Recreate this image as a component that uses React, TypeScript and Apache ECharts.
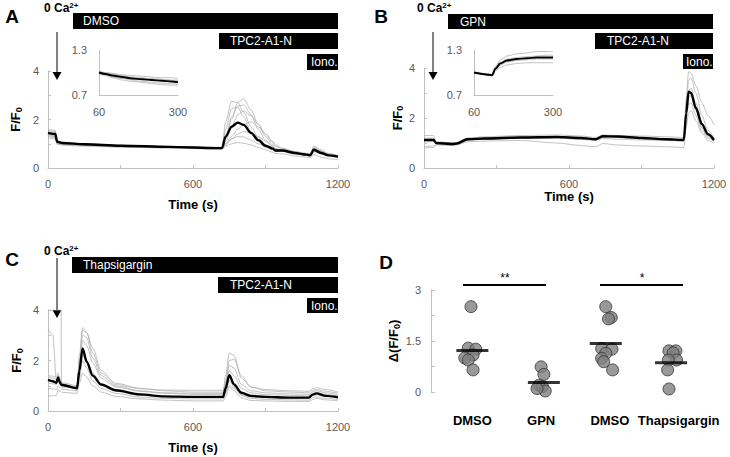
import React, { useEffect, useRef } from "react";
import * as echarts from "echarts";

const FONT = "'Liberation Sans', Arial, Helvetica, sans-serif";
const LABEL_GRAY = "#595959";
const AXIS_GRAY = "#c0c0c0";
const TRACE_GRAY = "#b3b3b3";

// ---------- Panel A (DMSO) ----------
const timeA = [0, 30, 38, 60, 150, 300, 500, 700, 720, 735, 760, 785, 810, 840, 870, 900, 930, 940, 970, 1020, 1070, 1085, 1100, 1130, 1160, 1200];
const meanA = [1.45, 1.4, 1.08, 1.03, 0.98, 0.92, 0.87, 0.82, 0.82, 1.3, 1.7, 1.87, 1.78, 1.45, 1.15, 0.92, 0.8, 0.72, 0.72, 0.62, 0.55, 0.52, 0.75, 0.62, 0.52, 0.47];
const cellA1 = [1.6, 1.55, 1.12, 1.06, 1.0, 0.94, 0.89, 0.85, 0.85, 1.9, 2.75, 2.7, 2.3, 1.7, 1.25, 0.95, 0.8, 0.72, 0.72, 0.62, 0.55, 0.55, 0.85, 0.7, 0.58, 0.5];
const cellA2 = [1.5, 1.45, 1.1, 1.04, 0.99, 0.93, 0.88, 0.83, 0.83, 1.2, 2.0, 2.7, 2.85, 2.4, 1.8, 1.3, 0.95, 0.8, 0.75, 0.65, 0.58, 0.56, 0.9, 0.75, 0.6, 0.52];
const cellA3 = [1.4, 1.35, 1.05, 1.0, 0.95, 0.9, 0.85, 0.8, 0.8, 1.6, 2.45, 2.5, 2.1, 1.5, 1.1, 0.85, 0.75, 0.68, 0.68, 0.6, 0.53, 0.52, 0.7, 0.6, 0.52, 0.46];
const cellA4 = [1.35, 1.3, 1.02, 0.98, 0.94, 0.89, 0.85, 0.81, 0.81, 1.1, 1.7, 2.2, 2.35, 2.15, 1.8, 1.4, 1.05, 0.9, 0.8, 0.68, 0.6, 0.58, 0.8, 0.68, 0.58, 0.5];
const cellA5 = [1.3, 1.25, 1.0, 0.96, 0.92, 0.88, 0.84, 0.8, 0.8, 1.0, 1.3, 1.6, 1.8, 1.9, 1.7, 1.4, 1.1, 0.95, 0.82, 0.68, 0.6, 0.58, 0.75, 0.65, 0.56, 0.5];
const cellA6 = [1.45, 1.4, 1.06, 1.01, 0.96, 0.9, 0.86, 0.82, 0.82, 1.0, 1.2, 1.3, 1.28, 1.15, 1.0, 0.88, 0.78, 0.7, 0.7, 0.6, 0.55, 0.53, 0.68, 0.58, 0.5, 0.44];
const cellA7 = [1.25, 1.2, 0.98, 0.94, 0.9, 0.86, 0.82, 0.78, 0.78, 0.9, 1.0, 1.05, 1.02, 0.95, 0.85, 0.75, 0.65, 0.6, 0.58, 0.5, 0.45, 0.42, 0.55, 0.45, 0.38, 0.35];
const cellA8 = [1.55, 1.5, 1.1, 1.05, 1.0, 0.93, 0.88, 0.84, 0.84, 1.3, 2.1, 2.55, 2.6, 2.2, 1.6, 1.15, 0.88, 0.75, 0.72, 0.63, 0.56, 0.55, 0.82, 0.68, 0.56, 0.48];
const cellA9 = [1.35, 1.3, 1.03, 0.98, 0.93, 0.88, 0.84, 0.8, 0.8, 0.95, 1.2, 1.4, 1.5, 1.45, 1.3, 1.1, 0.9, 0.8, 0.75, 0.63, 0.56, 0.54, 0.7, 0.6, 0.52, 0.46];
const cellsA = [cellA1, cellA2, cellA3, cellA4, cellA5, cellA6, cellA7, cellA8, cellA9];

// ---------- Panel B (GPN) ----------
const timeB = [0, 40, 50, 120, 135, 180, 250, 400, 550, 650, 710, 740, 800, 900, 1000, 1075, 1085, 1095, 1105, 1125, 1150, 1175, 1200];
const meanB = [1.12, 1.12, 1.0, 0.96, 0.98, 1.15, 1.18, 1.22, 1.24, 1.2, 1.15, 1.27, 1.26, 1.2, 1.15, 1.12, 2.2, 3.05, 3.0, 2.4, 1.75, 1.35, 1.12];
const cellB1 = [1.2, 1.2, 1.05, 1.0, 1.02, 1.2, 1.25, 1.3, 1.32, 1.28, 1.22, 1.32, 1.3, 1.28, 1.25, 1.22, 2.8, 3.85, 3.8, 3.3, 2.6, 2.1, 1.72];
const cellB2 = [1.05, 1.05, 0.98, 0.95, 0.97, 1.12, 1.16, 1.2, 1.22, 1.18, 1.12, 1.22, 1.22, 1.2, 1.15, 1.12, 2.5, 3.5, 3.6, 3.0, 2.1, 1.5, 1.2];
const cellB3 = [0.85, 0.88, 0.95, 0.93, 0.95, 1.1, 1.15, 1.18, 1.2, 1.15, 1.1, 1.18, 1.15, 1.12, 1.1, 1.08, 1.9, 2.55, 2.6, 2.1, 1.5, 1.2, 1.05];
const cellB4 = [0.8, 0.82, 0.92, 0.9, 0.92, 1.05, 1.08, 1.1, 1.0, 0.9, 0.85, 0.98, 0.92, 0.88, 0.85, 0.82, 1.6, 2.2, 2.3, 1.9, 1.4, 1.1, 0.98];
const cellB5 = [1.3, 1.3, 1.02, 0.97, 0.99, 1.18, 1.2, 1.24, 1.26, 1.22, 1.18, 1.3, 1.28, 1.22, 1.18, 1.15, 2.3, 3.1, 3.2, 2.6, 1.8, 1.35, 1.1];
const cellB6 = [1.15, 1.15, 1.0, 0.96, 0.98, 1.15, 1.19, 1.22, 1.25, 1.2, 1.15, 1.25, 1.25, 1.2, 1.16, 1.12, 2.1, 2.8, 2.9, 2.3, 1.6, 1.25, 1.05];
const cellsB = [cellB1, cellB2, cellB3, cellB4, cellB5, cellB6];

// ---------- Panel C (Thapsigargin) ----------
const timeC = [0, 20, 35, 42, 46, 54, 56, 60, 120, 130, 143, 160, 185, 220, 280, 380, 480, 600, 725, 735, 750, 770, 800, 840, 900, 1000, 1080, 1095, 1110, 1150, 1200];
const meanC = [1.23, 1.18, 1.12, 1.33, 1.2, 1.05, 1.04, 1.03, 0.9, 1.6, 2.48, 1.95, 1.4, 1.05, 0.82, 0.66, 0.58, 0.56, 0.56, 0.9, 1.42, 1.05, 0.72, 0.6, 0.56, 0.53, 0.53, 0.65, 0.7, 0.6, 0.54];
const cellC1 = [3.27, 3.0, 1.2, 1.25, 1.15, 1.05, 1.05, 1.04, 0.95, 2.2, 3.3, 3.1, 2.3, 1.5, 1.05, 0.88, 0.83, 0.82, 0.82, 1.4, 2.3, 2.2, 1.3, 0.95, 0.85, 0.8, 0.78, 0.88, 0.92, 0.85, 0.75];
const cellC2 = [4, 4, 4, 4, 4, 4, 0.95, 0.95, 0.92, 2.0, 3.2, 3.1, 2.5, 1.6, 1.1, 0.9, 0.8, 0.75, 0.75, 1.2, 2.0, 2.05, 1.4, 0.95, 0.8, 0.75, 0.72, 0.82, 0.85, 0.78, 0.7];
const cellC3 = [1.35, 1.3, 1.25, 1.4, 1.3, 1.12, 1.1, 1.08, 0.95, 1.9, 3.0, 2.9, 2.1, 1.4, 1.0, 0.8, 0.72, 0.7, 0.7, 1.1, 1.8, 1.7, 1.05, 0.8, 0.72, 0.68, 0.66, 0.76, 0.8, 0.72, 0.65];
const cellC4 = [0.9, 0.88, 0.85, 1.0, 0.95, 0.88, 0.87, 0.86, 0.8, 1.3, 2.0, 1.7, 1.2, 0.9, 0.7, 0.55, 0.5, 0.48, 0.48, 0.7, 1.2, 0.95, 0.62, 0.5, 0.46, 0.44, 0.43, 0.52, 0.56, 0.5, 0.45];
const cellC5 = [0.6, 0.6, 0.62, 0.85, 0.8, 0.75, 0.75, 0.74, 0.7, 1.1, 1.5, 1.35, 1.0, 0.75, 0.58, 0.48, 0.43, 0.4, 0.4, 0.55, 0.95, 0.8, 0.52, 0.42, 0.4, 0.38, 0.38, 0.45, 0.5, 0.44, 0.4];
const cellC6 = [1.4, 1.38, 1.35, 1.5, 1.38, 1.2, 1.15, 1.12, 1.0, 1.7, 2.8, 2.6, 1.9, 1.3, 0.95, 0.78, 0.7, 0.66, 0.66, 1.0, 1.6, 1.4, 0.9, 0.72, 0.65, 0.62, 0.6, 0.7, 0.74, 0.66, 0.6];
const cellC7 = [1.1, 1.08, 1.05, 1.2, 1.1, 1.0, 0.98, 0.97, 0.88, 1.5, 2.2, 2.0, 1.5, 1.05, 0.78, 0.62, 0.56, 0.53, 0.53, 0.75, 1.0, 0.9, 0.65, 0.55, 0.52, 0.5, 0.5, 0.6, 0.64, 0.58, 0.52];
const cellsC = [cellC1, cellC2, cellC3, cellC4, cellC5, cellC6, cellC7];

// ---------- Insets (60–300 s) ----------
const timeInsetA = [60, 80, 100, 130, 160, 190, 220, 250, 280, 300];
const meanInsetA = [1.0, 0.98, 0.96, 0.94, 0.92, 0.91, 0.9, 0.89, 0.88, 0.87];
const insetA1 = [1.02, 1.0, 0.99, 0.97, 0.96, 0.95, 0.94, 0.93, 0.93, 0.92];
const insetA2 = [0.98, 0.96, 0.93, 0.9, 0.88, 0.87, 0.85, 0.84, 0.83, 0.82];
const insetA3 = [1.01, 0.99, 0.97, 0.96, 0.94, 0.92, 0.92, 0.91, 0.9, 0.9];
const insetA4 = [0.99, 0.97, 0.94, 0.92, 0.9, 0.88, 0.87, 0.86, 0.85, 0.84];
const insetA5 = [1.0, 0.99, 0.98, 0.95, 0.93, 0.93, 0.91, 0.9, 0.89, 0.89];
const insetCellsA = [insetA1, insetA2, insetA3, insetA4, insetA5];

const timeInsetB = [60, 80, 105, 115, 125, 140, 160, 190, 220, 250, 280, 300];
const meanInsetB = [1.0, 0.985, 0.97, 0.965, 1.05, 1.12, 1.16, 1.18, 1.19, 1.2, 1.2, 1.2];
const insetB1 = [1.0, 0.99, 0.98, 0.97, 1.08, 1.17, 1.22, 1.25, 1.26, 1.28, 1.28, 1.28];
const insetB2 = [0.99, 0.98, 0.96, 0.96, 1.02, 1.07, 1.1, 1.12, 1.13, 1.13, 1.13, 1.13];
const insetB3 = [1.0, 0.99, 0.97, 0.97, 1.06, 1.14, 1.18, 1.2, 1.21, 1.22, 1.23, 1.23];
const insetB4 = [1.01, 0.99, 0.98, 0.97, 1.04, 1.1, 1.14, 1.16, 1.17, 1.18, 1.18, 1.18];
const insetCellsB = [insetB1, insetB2, insetB3, insetB4];

// ---------- Panel D ----------
const dCategories = ["DMSO", "GPN", "DMSO", "Thapsigargin"];
const dmso1Vals = [2.51, 1.29, 1.26, 1.09, 1.0, 0.94, 0.65];
const dmso1Jit = [-0.02, -0.06, 0.05, 0.01, -0.11, -0.06, 0.01];
const gpnVals = [0.74, 0.52, 0.2, 0.16, 0.03, 0.1];
const gpnJit = [0, 0.04, -0.03, 0.02, 0.06, -0.06];
const dmso2Vals = [2.51, 2.19, 2.15, 1.28, 1.26, 1.14, 0.99, 0.89, 0.65];
const dmso2Jit = [-0.06, 0.02, -0.02, -0.12, 0.03, -0.06, -0.12, -0.09, 0.04];
const thapsVals = [1.21, 1.21, 1.15, 0.94, 0.94, 0.65, 0.09];
const thapsJit = [-0.14, -0.04, -0.08, -0.03, -0.15, -0.16, -0.14];
const groupMeans = [1.22, 0.28, 1.43, 0.86];
const meanJit = [0, 0.04, -0.06, -0.11];

// ---------- Tick labels ----------
const xTickLabels = [0, 600, 1200];
const yTickLabelsMain = [0, 2, 4];
const insetXTickLabels = [60, 300];
const insetYTickLabels = [0.7, 1.3];
const dYTickLabels = [0, 1.5, 3];

const pair = (t: number[], v: number[]) => t.map((x, i) => [x, v[i]]);
const has = (arr: number[], v: number) => arr.some((a) => Math.abs(a - v) < 1e-6);

const labelStyle = { color: LABEL_GRAY, fontSize: 11, fontFamily: FONT };
const subRich = {
  s: { fontSize: 9, fontWeight: "bold", fontFamily: FONT, color: "#000", padding: [6, 0, 0, 0], verticalAlign: "bottom" },
};
const nameStyle = { color: "#000", fontSize: 13, fontWeight: "bold", fontFamily: FONT, rich: subRich };

function mainX(gridIndex: number, nameGap: number) {
  return {
    type: "value", gridIndex, min: 0, max: 1200, interval: 300,
    axisLine: { show: true, lineStyle: { color: AXIS_GRAY, width: 1 } },
    axisTick: { show: true, inside: true, length: 3, lineStyle: { color: AXIS_GRAY } },
    axisLabel: { ...labelStyle, margin: 10, formatter: (v: number) => (has(xTickLabels, v) ? String(v) : "") },
    splitLine: { show: false },
    name: "Time (s)", nameLocation: "middle", nameGap,
    nameTextStyle: { color: "#000", fontSize: 13, fontWeight: "bold", fontFamily: FONT },
  };
}
function mainY(gridIndex: number, nameGap: number) {
  return {
    type: "value", gridIndex, min: 0, max: 4, interval: 1,
    axisLine: { show: true, lineStyle: { color: AXIS_GRAY, width: 1 } },
    axisTick: { show: true, inside: true, length: 3, lineStyle: { color: AXIS_GRAY } },
    axisLabel: { ...labelStyle, margin: 9, formatter: (v: number) => (has(yTickLabelsMain, v) ? String(v) : "") },
    splitLine: { show: false },
    name: "F/F{s|0}", nameLocation: "middle", nameGap, nameRotate: 90, nameTextStyle: nameStyle,
  };
}
function insetX(gridIndex: number) {
  return {
    type: "value", gridIndex, min: 60, max: 300, interval: 240,
    axisLine: { show: true, lineStyle: { color: AXIS_GRAY, width: 1 } },
    axisTick: { show: false },
    axisLabel: { ...labelStyle, margin: 11, formatter: (v: number) => (has(insetXTickLabels, v) ? String(v) : "") },
    splitLine: { show: false },
  };
}
function insetY(gridIndex: number) {
  return {
    type: "value", gridIndex, min: 0.7, max: 1.3, interval: 0.6,
    axisLine: { show: true, lineStyle: { color: AXIS_GRAY, width: 1 } },
    axisTick: { show: false },
    axisLabel: { ...labelStyle, margin: 12, formatter: (v: number) => (has(insetYTickLabels, v) ? v.toFixed(1) : "") },
    splitLine: { show: false },
  };
}

function traceSeries(axis: number, times: number[], cells: number[][], mean: number[], meanWidth: number) {
  const base = { type: "line", xAxisIndex: axis, yAxisIndex: axis, showSymbol: false, symbol: "none", smooth: 0.3, smoothMonotone: "x", silent: true };
  return [
    ...cells.map((c) => ({ ...base, data: pair(times, c), lineStyle: { color: TRACE_GRAY, width: 0.8 }, z: 2 })),
    { ...base, data: pair(times, mean), lineStyle: { color: "#000", width: meanWidth }, z: 3 },
  ];
}

function dotSeries(cat: number, vals: number[], jit: number[]) {
  return {
    type: "scatter", xAxisIndex: 3, yAxisIndex: 3, symbol: "circle", symbolSize: 12,
    data: vals.map((v, i) => [cat + jit[i], v]),
    itemStyle: { color: "#7f7f7f", borderColor: "#333", borderWidth: 1 }, z: 3, silent: true,
  };
}

const txt = (x: number, y: number, text: string, o: any = {}) => ({
  type: "text", x, y, silent: true,
  style: { text, fontFamily: FONT, fontSize: 12, fill: "#000", align: "left", verticalAlign: "middle", ...o },
});
const bar = (x: number, y: number, w: number, h: number, label: string, tx: number) => [
  { type: "rect", silent: true, shape: { x, y, width: w, height: h }, style: { fill: "#000" } },
  txt(tx, y + h / 2, label, { fill: "#fff", fontSize: 12 }),
];
const arrow = (x: number, y1: number, y2: number) => [
  { type: "line", silent: true, shape: { x1: x, y1, x2: x, y2: y2 - 6 }, style: { stroke: "#000", lineWidth: 1 } },
  { type: "polygon", silent: true, shape: { points: [[x - 4.5, y2 - 8], [x + 4.5, y2 - 8], [x, y2]] }, style: { fill: "#000" } },
];
const caText = (x: number, y: number) =>
  txt(x, y, "0 Ca{sup|2+}", {
    fontWeight: "bold", fontSize: 12,
    rich: { sup: { fontSize: 8, fontWeight: "bold", fontFamily: FONT, padding: [0, 0, 6, 0], verticalAlign: "top" } },
  });
const letter = (x: number, y: number, l: string) => txt(x, y, l, { fontWeight: "bold", fontSize: 19, align: "center" });

function App() {
  const ref = useRef<HTMLDivElement>(null);
  useEffect(() => {
    const chart = echarts.init(ref.current!, null, { renderer: "svg" });
    const option: any = {
      animation: false,
      backgroundColor: "#fff",
      grid: [
        { left: 48, top: 71, width: 290, height: 97 },
        { left: 424, top: 68, width: 290, height: 100 },
        { left: 48, top: 310, width: 290, height: 101 },
        { left: 438, top: 290, width: 275, height: 102 },
        { left: 99, top: 50, width: 79, height: 45 },
        { left: 474, top: 50, width: 79, height: 45 },
      ],
      xAxis: [
        mainX(0, 30),
        mainX(1, 22),
        mainX(2, 30),
        { type: "value", gridIndex: 3, min: 0.5, max: 4.5, show: false },
        insetX(4),
        insetX(5),
        {
          type: "category", gridIndex: 3, data: dCategories, position: "bottom",
          axisLine: { show: false }, axisTick: { show: false },
          axisLabel: { color: "#000", fontWeight: "bold", fontSize: 13, fontFamily: FONT, margin: 22, interval: 0 },
        },
      ],
      yAxis: [
        mainY(0, 25),
        mainY(1, 17),
        mainY(2, 24),
        {
          type: "value", gridIndex: 3, min: 0, max: 3, interval: 0.75, offset: 7,
          axisLine: { show: true, lineStyle: { color: AXIS_GRAY, width: 1 } },
          axisTick: { show: true, inside: true, length: 4, lineStyle: { color: AXIS_GRAY } },
          axisLabel: { ...labelStyle, margin: 10, formatter: (v: number) => (has(dYTickLabels, v) ? String(v) : "") },
          splitLine: { show: false },
          name: "Δ(F/F{s|0})", nameLocation: "middle", nameGap: 30, nameRotate: 90, nameTextStyle: nameStyle,
        },
        insetY(4),
        insetY(5),
      ],
      series: [
        ...traceSeries(0, timeA, cellsA, meanA, 2.4),
        ...traceSeries(1, timeB, cellsB, meanB, 2.4),
        ...traceSeries(2, timeC, cellsC, meanC, 2.4),
        ...traceSeries(4, timeInsetA, insetCellsA, meanInsetA, 2),
        ...traceSeries(5, timeInsetB, insetCellsB, meanInsetB, 2),
        dotSeries(1, dmso1Vals, dmso1Jit),
        dotSeries(2, gpnVals, gpnJit),
        dotSeries(3, dmso2Vals, dmso2Jit),
        dotSeries(4, thapsVals, thapsJit),
        {
          type: "scatter", xAxisIndex: 3, yAxisIndex: 3, symbol: "rect", symbolSize: [32, 3],
          data: groupMeans.map((m, i) => [i + 1 + meanJit[i], m]),
          itemStyle: { color: "#000" }, z: 4, silent: true,
        },
      ],
      graphic: [
        letter(12, 16, "A"), letter(381, 16, "B"), letter(12, 259, "C"), letter(386, 262, "D"),
        caText(44, 8), caText(417, 8), caText(44, 251),
        ...arrow(57, 32, 80), ...arrow(433, 32, 80), ...arrow(57, 258, 318),
        ...bar(73, 13, 265, 16, "DMSO", 83),
        ...bar(219, 33, 119, 16, "TPC2-A1-N", 230),
        ...bar(307, 54, 31, 16, "Iono.", 311),
        ...bar(448, 14, 265, 15, "GPN", 460),
        ...bar(595, 33, 118, 16, "TPC2-A1-N", 607),
        ...bar(683, 54, 30, 15, "Iono.", 686),
        ...bar(72, 257, 266, 16, "Thapsigargin", 83),
        ...bar(218, 277, 120, 16, "TPC2-A1-N", 230),
        ...bar(307, 298, 31, 15, "Iono.", 311),
        { type: "line", silent: true, shape: { x1: 463, y1: 285, x2: 546, y2: 285 }, style: { stroke: "#000", lineWidth: 2 } },
        { type: "line", silent: true, shape: { x1: 600, y1: 285, x2: 683, y2: 285 }, style: { stroke: "#000", lineWidth: 2 } },
        txt(505, 278, "**", { align: "center", fontSize: 12 }),
        txt(642, 278, "*", { align: "center", fontSize: 12 }),
      ],
    };
    chart.setOption(option);
    return () => chart.dispose();
  }, []);
  return (
    <div
      ref={ref}
      style={{ position: "fixed", left: 0, top: 0, width: 730, height: 457, background: "#fff" }}
    />
  );
}

export default App;
